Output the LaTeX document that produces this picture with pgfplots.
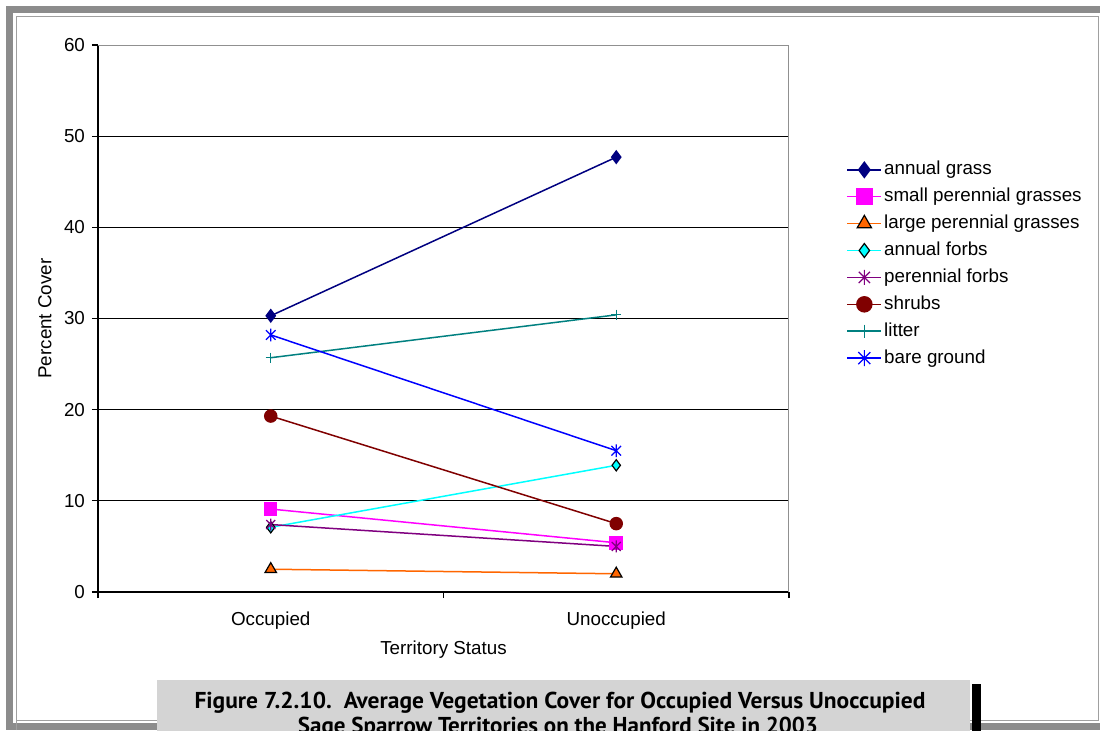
\documentclass[border=0pt]{standalone}
\usepackage{fontspec}
\setmainfont{Liberation Sans}
\newfontfamily\capfont{PT Sans}
\usepackage{graphicx}
\usepackage{pgfplots}
\pgfplotsset{compat=1.18}
\newcommand{\fs}{\fontsize{9.4pt}{11pt}\selectfont}
\definecolor{frameA}{HTML}{8C8C8C}
\definecolor{frameB}{HTML}{A0A0A0}
\definecolor{capgray}{HTML}{D4D4D4}
\definecolor{cNavy}{HTML}{000080}
\definecolor{cMag}{HTML}{FF00FF}
\definecolor{cOrange}{HTML}{FF6600}
\definecolor{cCyan}{HTML}{00FFFF}
\definecolor{cPurple}{HTML}{800080}
\definecolor{cMaroon}{HTML}{800000}
\definecolor{cTeal}{HTML}{008080}
\definecolor{cBlue}{HTML}{0000FF}
\definecolor{borderGray}{HTML}{909090}
\pgfdeclareplotmark{xstar}{%
  \pgfpathmoveto{\pgfqpoint{0pt}{\pgfplotmarksize}}%
  \pgfpathlineto{\pgfqpoint{0pt}{-\pgfplotmarksize}}%
  \pgfpathmoveto{\pgfqpoint{-0.75\pgfplotmarksize}{-0.75\pgfplotmarksize}}%
  \pgfpathlineto{\pgfqpoint{0.75\pgfplotmarksize}{0.75\pgfplotmarksize}}%
  \pgfpathmoveto{\pgfqpoint{-0.75\pgfplotmarksize}{0.75\pgfplotmarksize}}%
  \pgfpathlineto{\pgfqpoint{0.75\pgfplotmarksize}{-0.75\pgfplotmarksize}}%
  \pgfusepathqstroke}
\begin{document}
\begin{tikzpicture}
\clip (0,0) rectangle (550pt,-365pt);
\begin{scope}[x=0.5pt,y=-0.5pt]
  \fill[white] (0,0) rectangle (1100,730);
  \fill[frameA] (6,6) rectangle (1100,13);
  \fill[frameA] (6,6) rectangle (13,730);
  \fill[frameA] (6,723) rectangle (1100,730);
  \draw[frameB,line width=0.9pt] (16.5,730) -- (16.5,16.5) -- (1098.5,16.5) -- (1098.5,720.5) -- (16.5,720.5);
\end{scope}
\begin{axis}[
  at={(49pt,-296pt)}, anchor=south west,
  scale only axis, width=345.5pt, height=273.5pt,
  xmin=0, xmax=2, ymin=0, ymax=60,
  ytick={0,10,...,60},
  xtick={0,1,2}, xticklabels={},
  extra x ticks={0.5,1.5},
  extra x tick labels={Occupied,Unoccupied},
  extra x tick style={major tick length=0pt, grid=none,
    tick label style={anchor=center, yshift=-14.5pt}},
  axis x line*=bottom, axis y line*=left,
  axis line style={-, black, line width=0.6pt},
  tick align=outside, major tick length=3pt,
  tick style={black, line width=0.6pt},
  ymajorgrids, grid style={black, line width=0.5pt},
  tick label style={font=\fs},
  /pgf/number format/assume math mode=true,
  ylabel={Percent Cover}, xlabel={Territory Status},
  label style={font=\fs},
  ylabel style={at={(axis description cs:-0.0767,0.5)}, anchor=center},
  xlabel style={at={(axis description cs:0.5,-0.106)}, anchor=center},
  legend cell align=left,
  legend style={draw=none, fill=none, at={(1.074,0.80)}, anchor=north west,
    font=\fs, row sep=2.45pt,
    nodes={inner sep=1pt, text height=7pt, text depth=2pt}},
  legend image post style={every mark/.append style={scale=1.25}},
  every axis plot/.append style={line width=0.75pt},
]
\addplot[color=cNavy, mark=diamond*, mark size=3pt, mark options={fill=cNavy, draw=cNavy}]
  coordinates {(0.5,30.3) (1.5,47.7)};
\addlegendentry{annual grass}
\addplot[color=cMag, mark=square*, mark size=3pt, mark options={fill=cMag, draw=cMag}]
  coordinates {(0.5,9.1) (1.5,5.4)};
\addlegendentry{small perennial grasses}
\addplot[color=cOrange, mark=triangle*, mark size=3.3pt, mark options={fill=cOrange, draw=black, line width=0.6pt}]
  coordinates {(0.5,2.5) (1.5,2.0)};
\addlegendentry{large perennial grasses}
\addplot[color=cCyan, mark=diamond*, mark size=2.8pt, mark options={fill=cCyan, draw=black, line width=0.6pt}]
  coordinates {(0.5,7.1) (1.5,13.9)};
\addlegendentry{annual forbs}
\addplot[color=cPurple, mark=xstar, mark size=3pt, mark options={draw=cPurple, line width=0.6pt}]
  coordinates {(0.5,7.4) (1.5,5.0)};
\addlegendentry{perennial forbs}
\addplot[color=cMaroon, mark=*, mark size=3pt, mark options={fill=cMaroon, draw=cMaroon}]
  coordinates {(0.5,19.3) (1.5,7.5)};
\addlegendentry{shrubs}
\addplot[color=cTeal, mark=+, mark size=2.6pt, mark options={draw=cTeal, line width=0.6pt}]
  coordinates {(0.5,25.7) (1.5,30.4)};
\addlegendentry{litter}
\addplot[color=cBlue, mark=xstar, mark size=3.2pt, mark options={draw=cBlue, line width=0.6pt}]
  coordinates {(0.5,28.2) (1.5,15.5)};
\addlegendentry{bare ground}
\draw[borderGray, line width=1pt] (rel axis cs:0,1) -- (rel axis cs:1,1) -- (rel axis cs:1,0);
\end{axis}
\begin{scope}[x=0.5pt,y=-0.5pt]
  \fill[capgray] (157,680) rectangle (970,740);
  \fill[black] (972,684) rectangle (981,740);
  \node[inner sep=0pt, anchor=center] at (560,703)
    {\resizebox{365.5pt}{\height}{\capfont\bfseries\fontsize{11.5pt}{12pt}\selectfont Figure 7.2.10.\ \ Average Vegetation Cover for Occupied Versus Unoccupied}};
  \node[inner sep=0pt, anchor=center] at (558,728)
    {\resizebox{260pt}{\height}{\capfont\bfseries\fontsize{11.5pt}{12pt}\selectfont Sage Sparrow Territories on the Hanford Site in 2003}};
\end{scope}
\end{tikzpicture}
\end{document}
